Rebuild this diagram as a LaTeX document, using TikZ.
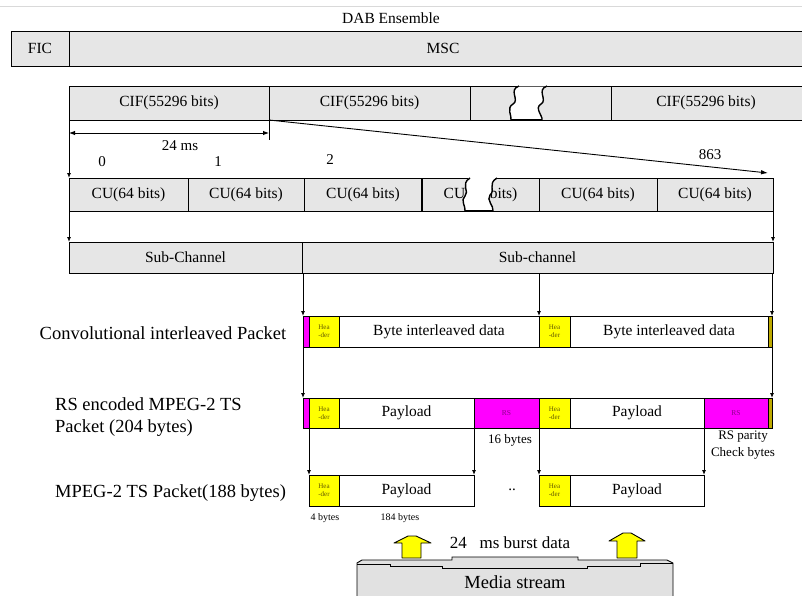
\documentclass[tikz,border=0pt]{standalone}
\usepackage{fontspec}
\setmainfont{Liberation Serif}
\usetikzlibrary{arrows.meta,calc}
\definecolor{boxgray}{RGB}{230,230,230}
\definecolor{mag}{RGB}{255,0,255}
\definecolor{yel}{RGB}{255,255,0}
\definecolor{olivestrip}{RGB}{190,170,0}
\definecolor{hdrtext}{RGB}{100,90,0}
\definecolor{rstext}{RGB}{140,0,140}
\definecolor{mediagray}{RGB}{225,225,225}
\begin{document}
\begin{tikzpicture}[x=1pt,y=-1pt,
  cell/.style={draw=black, line width=0.9pt, fill=boxgray, inner sep=0pt, outer sep=0pt, anchor=north west, font=\fontsize{15.5}{17}\selectfont},
  pkt/.style={cell, fill=white},
  hdr/.style={cell, fill=yel, align=center, font=\fontsize{7}{8}\selectfont, text=hdrtext},
  magbox/.style={cell, fill=mag},
  rsbox/.style={magbox, font=\fontsize{7.5}{8}\selectfont, text=rstext},
  strip/.style={cell, fill=olivestrip},
  lbl/.style={font=\fontsize{18.5}{22}\selectfont, inner sep=0pt},
  smalltxt/.style={font=\fontsize{13}{15}\selectfont, inner sep=0pt},
  tinytxt/.style={font=\fontsize{10}{12}\selectfont, inner sep=0pt},
  num/.style={font=\fontsize{15}{17}\selectfont, inner sep=0pt},
  conn/.style={line width=0.9pt, -{Latex[length=5pt,width=4pt]}},
  plain/.style={line width=0.9pt},
  wavy/.style={line width=1.4pt},
  blockarrow/.style={fill=yel, draw=black, line width=0.9pt, line join=round},
]
\useasboundingbox (0,0) rectangle (802,595);
\draw[black!15, line width=0.6pt] (0,6) -- (802,6);

% ensemble
\node[font=\fontsize{15.5}{17}\selectfont, inner sep=0pt] (dab) at (391,18) {DAB Ensemble};
\node[cell, minimum width=58pt, minimum height=35pt] (fic) at (11,31) {FIC};
\node[cell, minimum width=740pt, minimum height=35pt] (msc) at (69,31) {};
\node[font=\fontsize{15.5}{17}\selectfont, inner sep=0pt] (msctxt) at (443,48.5) {MSC};

% CIF row
\node[cell, minimum width=200pt, minimum height=34pt] (cif1) at (69,86) {CIF(55296 bits)};
\node[cell, minimum width=201pt, minimum height=34pt] (cif2) at (269,86) {CIF(55296 bits)};
\node[cell, minimum width=141pt, minimum height=34pt] (cif3) at (470,86) {};
\node[cell, minimum width=200pt, minimum height=34pt] (cif4) at (611,86) {};
\node[font=\fontsize{15.5}{17}\selectfont, inner sep=0pt] (cif4txt) at (706,103) {CIF(55296 bits)};
% break in CIF row
\fill[white] (519,86.5) .. controls (508,90) and (520,100) .. (513,104) .. controls (506,108) and (512,116) .. (511,119.5)
  -- (542,119.5) .. controls (543,116) and (534,108) .. (541,104) .. controls (548,100) and (536,90) .. (547,86.5) -- cycle;
\draw[wavy] (519,86) .. controls (508,90) and (520,100) .. (513,104) .. controls (506,108) and (512,116) .. (511,120);
\draw[wavy] (547,86) .. controls (536,90) and (548,100) .. (541,104) .. controls (534,108) and (543,116) .. (542,120);
\draw[wavy] (511,120) -- (542,120);

% 24 ms
\coordinate (msl) at (69,133);
\coordinate (msr) at (269,133);
\draw[line width=0.9pt, {Latex[length=6pt,width=4.5pt]}-{Latex[length=6pt,width=4.5pt]}] (msl) -- (msr);
\node[num] (ms) at (180,146) {24 ms};
\draw[plain] (cif2.south west) -- ++(0,20);

% CU row
\node[cell, minimum width=119pt, minimum height=33pt] (cu1) at (69,178) {CU(64 bits)};
\node[cell, minimum width=116pt, minimum height=33pt] (cu2) at (188,178) {CU(64 bits)};
\node[cell, minimum width=118pt, minimum height=33pt] (cu3) at (304,178) {CU(64 bits)};
\node[cell, minimum width=117pt, minimum height=33pt] (cu4) at (422,178) {CU(64 bits)};
\node[cell, minimum width=118pt, minimum height=33pt] (cu5) at (539,178) {CU(64 bits)};
\node[cell, minimum width=116pt, minimum height=33pt] (cu6) at (657,178) {CU(64 bits)};
\draw[line width=2pt] (cu4.north west) -- (cu4.south west);
% break in CU row
\fill[white] (470,177) .. controls (460,184) and (470,192) .. (465,196) .. controls (460,200) and (466,207) .. (465,210.5)
  -- (493,210.5) .. controls (494,206) and (486,200) .. (490,195) .. controls (496,190) and (487,184) .. (497,177) -- cycle;
\draw[wavy] (470,178) .. controls (460,184) and (470,192) .. (465,196) .. controls (460,200) and (466,207) .. (465,211);
\draw[wavy] (497,178) .. controls (487,184) and (496,190) .. (490,195) .. controls (486,200) and (494,206) .. (493,211);
\draw[line width=2pt] (465,211) -- (493,211);

% numbers and fan-out
\node[num] (n0) at (102,162) {0};
\node[num] (n1) at (218,162) {1};
\node[num] (n2) at (330,160) {2};
\node[num] (n863) at (710,155) {863};
\coordinate (tip863) at (768,173);
\draw[line width=0.9pt, -{Latex[length=7pt,width=4.5pt]}] (cif2.south west) -- (tip863);
\draw[conn] (cif1.south west) -- (cu1.north west);

% sub-channel row
\node[cell, minimum width=233pt, minimum height=31pt] (sub1) at (69,242) {Sub-Channel};
\node[cell, minimum width=471pt, minimum height=31pt] (sub2) at (302,242) {Sub-channel};
\draw[conn] (cu1.south west) -- (sub1.north west);
\draw[conn] (cu6.south east) -- (sub2.north east);

% convolutional interleaved packet row
\node[lbl] (convlbl) at (163,333) {Convolutional interleaved Packet};
\node[magbox, minimum width=6pt, minimum height=31pt] (m1) at (303,316) {};
\node[hdr, minimum width=30pt, minimum height=31pt] (h1) at (309,316) {Hea\\-der};
\node[pkt, minimum width=200pt, minimum height=31pt] (d1) at (339,316) {Byte interleaved data};
\node[hdr, minimum width=31pt, minimum height=31pt] (h2) at (539,316) {Hea\\-der};
\node[pkt, minimum width=198pt, minimum height=31pt] (d2) at (570,316) {Byte interleaved data};
\node[strip, minimum width=4pt, minimum height=31pt] (s1) at (768,316) {};
\draw[conn] (m1.north west |- sub2.south) -- (m1.north west);
\draw[conn] (h2.north west |- sub2.south) -- (h2.north west);
\draw[conn] (s1.north east |- sub2.south) -- (s1.north east);

% RS encoded row
\node[lbl, align=left, anchor=west] (rslbl) at (55,417) {RS encoded MPEG-2 TS\\Packet (204 bytes)};
\node[magbox, minimum width=6pt, minimum height=30pt] (rm1) at (303,398) {};
\node[hdr, minimum width=30pt, minimum height=30pt] (rh1) at (309,398) {Hea\\-der};
\node[pkt, minimum width=135pt, minimum height=30pt] (rp1) at (339,398) {Payload};
\node[rsbox, minimum width=65pt, minimum height=30pt] (rr1) at (474,398) {RS};
\node[hdr, minimum width=31pt, minimum height=30pt] (rh2) at (539,398) {Hea\\-der};
\node[pkt, minimum width=134pt, minimum height=30pt] (rp2) at (570,398) {Payload};
\node[rsbox, minimum width=64pt, minimum height=30pt] (rr2) at (704,398) {RS};
\node[strip, minimum width=4pt, minimum height=30pt] (rs2) at (768,398) {};
\draw[conn] (m1.south west) -- (rm1.north west);
\draw[conn] (s1.south east) -- (rs2.north east);
\node[smalltxt] (b16) at (510,440) {16 bytes};
\node[smalltxt, align=center, font=\fontsize{13}{17}\selectfont] (parity) at (743,445.5) {RS parity\\Check bytes};

% MPEG-2 TS row
\node[lbl, anchor=west] (tslbl) at (55,493) {MPEG-2 TS Packet(188 bytes)};
\node[hdr, minimum width=30pt, minimum height=31pt] (th1) at (309,475) {Hea\\-der};
\node[pkt, minimum width=135pt, minimum height=31pt] (tp1) at (339,475) {Payload};
\node[hdr, minimum width=31pt, minimum height=31pt] (th2) at (539,475) {Hea\\-der};
\node[pkt, minimum width=134pt, minimum height=31pt] (tp2) at (570,475) {Payload};
\draw[conn] (rh1.south west) -- (th1.north west);
\draw[conn] (rp1.south east) -- (tp1.north east);
\draw[conn] (rh2.south west) -- (th2.north west);
\draw[conn] (rp2.south east) -- (tp2.north east);
\node[num] (dots) at (512,490) {..};
\node[tinytxt] (b4) at (325,518) {4 bytes};
\node[tinytxt] (b184) at (400,518) {184 bytes};

% media stream
\filldraw[fill=mediagray, draw=black, line width=0.9pt] (357,600) -- (357,563) -- (362,560) -- (452,560) -- (452,557) -- (578,557) -- (578,560) -- (667,560) -- (673,563) -- (673,600);
\draw[line width=0.8pt] (357,564) -- (390,564) -- (390,566) -- (442,566) -- (442,568) -- (587,568) -- (587,566) -- (640,566) -- (640,563) -- (673,563);
\node[lbl] (media) at (515,582) {Media stream};
\node[font=\fontsize{17}{20}\selectfont, inner sep=0pt] (burst) at (510,543) {24\,\,\, ms burst data};
\draw[blockarrow] (402,558) -- (402,543) -- (394,543) -- (408,536) -- (416,536) -- (431,543) -- (421,543) -- (421,558) -- cycle;
\draw[blockarrow] (617,558) -- (617,541) -- (609,541) -- (623,533) -- (631,533) -- (645,541) -- (637,541) -- (637,558) -- cycle;
\end{tikzpicture}
\end{document}
